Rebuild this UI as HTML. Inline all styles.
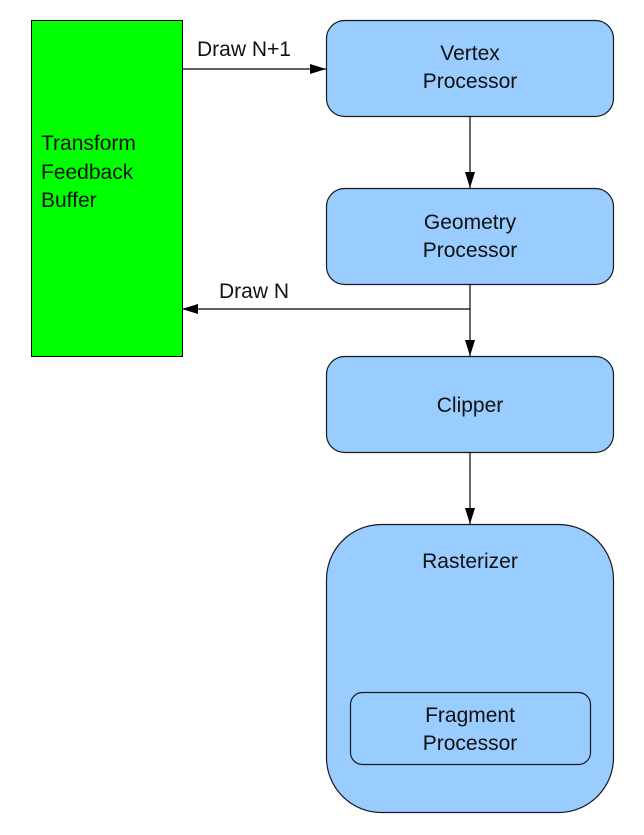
<!DOCTYPE html>
<html><head><style>
body{margin:0;background:#fff;}
svg{display:block;font-family:"Liberation Sans",sans-serif;}
</style></head><body>
<svg width="644" height="835" viewBox="0 0 644 835">
<defs><marker id="a" markerWidth="16" markerHeight="10" refX="16" refY="5" orient="auto" markerUnits="userSpaceOnUse"><path d="M0,0 L16,5 L0,10 z" fill="#000"/></marker></defs>
<rect x="31.5" y="20.5" width="151" height="336" fill="#00ff00" stroke="#000"/>
<g font-size="21" fill="#111">
<text x="41" y="150">Transform</text>
<text x="41" y="179">Feedback</text>
<text x="41" y="207">Buffer</text>
</g>
<g fill="#99ccff" stroke="#1a1a1a" stroke-width="1.2">
<rect x="326.5" y="20.5" width="287" height="96" rx="18"/>
<rect x="326.5" y="188.5" width="287" height="96" rx="18"/>
<rect x="326.5" y="356.5" width="287" height="96" rx="18"/>
<rect x="326.5" y="524.5" width="287" height="288" rx="55"/>
<rect x="350.5" y="692.5" width="240" height="72" rx="12"/>
</g>
<g font-size="21" fill="#111" text-anchor="middle">
<text x="470" y="60">Vertex</text>
<text x="470" y="88">Processor</text>
<text x="470" y="229">Geometry</text>
<text x="470" y="257">Processor</text>
<text x="470" y="412">Clipper</text>
<text x="470" y="568">Rasterizer</text>
<text x="470" y="722">Fragment</text>
<text x="470" y="750">Processor</text>
<text x="244" y="56">Draw N+1</text>
<text x="254" y="298">Draw N</text>
</g>
<g stroke="#000" stroke-width="1.2" fill="none">
<line x1="182" y1="69" x2="326" y2="69" marker-end="url(#a)"/>
<line x1="470" y1="116" x2="470" y2="188" marker-end="url(#a)"/>
<line x1="470" y1="284" x2="470" y2="356" marker-end="url(#a)"/>
<line x1="470" y1="309" x2="182" y2="309" marker-end="url(#a)"/>
<line x1="470" y1="452" x2="470" y2="524" marker-end="url(#a)"/>
</g>
</svg>
</body></html>
